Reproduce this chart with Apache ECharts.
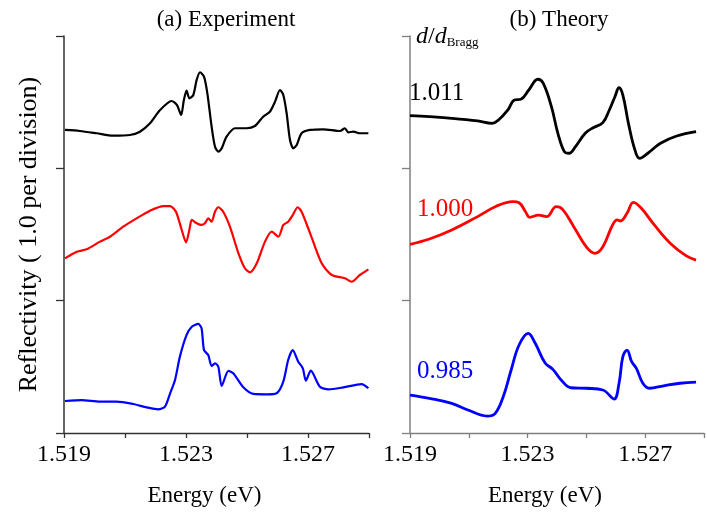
<!DOCTYPE html>
<html>
<head>
<meta charset="utf-8">
<script src="https://cdn.jsdelivr.net/npm/echarts@6/dist/echarts.min.js"></script>
<style>
  html, body { margin: 0; padding: 0; background: #fff; }
  #chart { width: 707px; height: 515px; }
</style>
</head>
<body>
<div id="chart"></div>
<script>
// Energy axis ticks (eV); only every second tick carries a label
const energyMin = 1.519;
const energyMax = 1.529;
const energyStep = 0.002;
const labelledTicks = [1.519, 1.523, 1.527];

// Panel titles and per-curve labels
const panelTitles = ['(a) Experiment', '(b) Theory'];
const spacingLabels = ['1.011', '1.000', '0.985'];
const curveColors = ['#000000', '#ff0000', '#0000ff'];

// (a) Measured reflectivity, [energy eV, reflectivity incl. offset]
const expTop = [
  [1.51903, 2.290], [1.51952, 2.282], [1.52007, 2.265], [1.52061, 2.247], [1.52116, 2.252],
  [1.52149, 2.277], [1.52182, 2.340], [1.52215, 2.441], [1.52253, 2.509], [1.52270, 2.479],
  [1.52284, 2.403], [1.52293, 2.516], [1.52302, 2.587], [1.52311, 2.529], [1.52324, 2.554],
  [1.52335, 2.668], [1.52346, 2.726], [1.52359, 2.693], [1.52370, 2.567], [1.52384, 2.315],
  [1.52395, 2.164], [1.52406, 2.126], [1.52417, 2.151], [1.52433, 2.239], [1.52461, 2.303],
  [1.52499, 2.303], [1.52526, 2.320], [1.52553, 2.390], [1.52575, 2.428], [1.52592, 2.504],
  [1.52608, 2.592], [1.52619, 2.554], [1.52630, 2.416], [1.52641, 2.214], [1.52652, 2.151],
  [1.52663, 2.176], [1.52679, 2.265], [1.52707, 2.290], [1.52750, 2.295], [1.52805, 2.282],
  [1.52821, 2.303], [1.52832, 2.272], [1.52849, 2.277], [1.52870, 2.265], [1.52898, 2.265]
];
const expMid = [
  [1.51903, 1.320], [1.51942, 1.370], [1.51974, 1.388], [1.52018, 1.446], [1.52051, 1.483],
  [1.52094, 1.559], [1.52138, 1.622], [1.52182, 1.680], [1.52226, 1.715], [1.52248, 1.715],
  [1.52267, 1.672], [1.52286, 1.534], [1.52300, 1.441], [1.52311, 1.534], [1.52319, 1.610],
  [1.52335, 1.585], [1.52351, 1.572], [1.52362, 1.585], [1.52373, 1.622], [1.52384, 1.597],
  [1.52395, 1.672], [1.52406, 1.706], [1.52422, 1.672], [1.52444, 1.559], [1.52472, 1.358],
  [1.52493, 1.245], [1.52510, 1.214], [1.52532, 1.282], [1.52559, 1.446], [1.52581, 1.521],
  [1.52603, 1.483], [1.52619, 1.572], [1.52635, 1.597], [1.52650, 1.647], [1.52666, 1.706],
  [1.52679, 1.672], [1.52707, 1.509], [1.52745, 1.282], [1.52778, 1.194], [1.52821, 1.169],
  [1.52843, 1.143], [1.52870, 1.194], [1.52898, 1.237]
];
const expLow = [
  [1.51903, 0.242], [1.51958, 0.249], [1.52018, 0.237], [1.52073, 0.237], [1.52127, 0.219],
  [1.52171, 0.194], [1.52209, 0.179], [1.52231, 0.199], [1.52248, 0.300], [1.52264, 0.401],
  [1.52280, 0.577], [1.52302, 0.741], [1.52319, 0.803], [1.52340, 0.824], [1.52351, 0.791],
  [1.52359, 0.627], [1.52373, 0.589], [1.52384, 0.506], [1.52395, 0.527], [1.52406, 0.501],
  [1.52417, 0.355], [1.52439, 0.469], [1.52455, 0.451], [1.52488, 0.345], [1.52521, 0.295],
  [1.52565, 0.292], [1.52597, 0.300], [1.52619, 0.388], [1.52635, 0.552], [1.52650, 0.627],
  [1.52668, 0.539], [1.52683, 0.489], [1.52693, 0.395], [1.52709, 0.471], [1.52739, 0.350],
  [1.52767, 0.330], [1.52816, 0.345], [1.52876, 0.370], [1.52898, 0.338]
];

// (b) Calculated reflectivity for three layer spacings d/d_Bragg
const theoryTop = [
  [1.51900, 2.398], [1.51966, 2.390], [1.52042, 2.378], [1.52130, 2.358], [1.52179, 2.340],
  [1.52201, 2.365], [1.52233, 2.441], [1.52255, 2.516], [1.52277, 2.522], [1.52304, 2.592],
  [1.52335, 2.673], [1.52353, 2.643], [1.52381, 2.466], [1.52403, 2.265], [1.52425, 2.126],
  [1.52441, 2.114], [1.52463, 2.164], [1.52496, 2.265], [1.52523, 2.307], [1.52556, 2.345],
  [1.52578, 2.441], [1.52597, 2.541], [1.52611, 2.609], [1.52624, 2.554], [1.52643, 2.340],
  [1.52665, 2.139], [1.52681, 2.076], [1.52709, 2.114], [1.52752, 2.189], [1.52807, 2.244],
  [1.52873, 2.277]
];
const theoryMid = [
  [1.51900, 1.426], [1.51966, 1.466], [1.52042, 1.534], [1.52130, 1.635], [1.52195, 1.715],
  [1.52250, 1.748], [1.52271, 1.740], [1.52293, 1.672], [1.52307, 1.630], [1.52337, 1.647],
  [1.52365, 1.635], [1.52397, 1.710], [1.52419, 1.690], [1.52457, 1.559], [1.52501, 1.403],
  [1.52529, 1.358], [1.52556, 1.408], [1.52589, 1.572], [1.52605, 1.610], [1.52616, 1.602],
  [1.52638, 1.660], [1.52660, 1.743], [1.52687, 1.698], [1.52731, 1.572], [1.52785, 1.434],
  [1.52840, 1.338], [1.52873, 1.307]
];
const theoryLow = [
  [1.51900, 0.287], [1.51966, 0.262], [1.52042, 0.224], [1.52097, 0.174], [1.52162, 0.128],
  [1.52190, 0.149], [1.52217, 0.274], [1.52244, 0.476], [1.52271, 0.665], [1.52302, 0.753],
  [1.52326, 0.678], [1.52359, 0.531], [1.52386, 0.481], [1.52414, 0.401], [1.52447, 0.342],
  [1.52501, 0.338], [1.52556, 0.325], [1.52594, 0.257], [1.52611, 0.376], [1.52624, 0.577],
  [1.52638, 0.627], [1.52654, 0.539], [1.52670, 0.489], [1.52692, 0.376], [1.52714, 0.338],
  [1.52763, 0.357], [1.52818, 0.376], [1.52873, 0.385]
];

const FONT = '"Liberation Serif", "Times New Roman", serif';

function isLabelled(v) {
  return labelledTicks.some(t => Math.abs(v - t) < 1e-7);
}

function energyAxis(gridIndex, axisColor) {
  return {
    type: 'value', gridIndex,
    min: energyMin, max: energyMax, interval: energyStep,
    name: 'Energy (eV)', nameLocation: 'middle', nameGap: 51,
    nameTextStyle: { fontFamily: FONT, fontSize: 23, color: '#000', padding: [0, 24, 0, 0] },
    axisLine: { show: true, lineStyle: { color: axisColor, width: 1.3 } },
    axisTick: { show: true, inside: false, length: 5, lineStyle: { color: axisColor, width: 1.3 } },
    axisLabel: {
      margin: 10, fontFamily: FONT, fontSize: 24, color: '#000',
      showMinLabel: true, showMaxLabel: true,
      formatter: v => isLabelled(v) ? v.toFixed(3) : ''
    },
    splitLine: { show: false }
  };
}

function reflAxis(gridIndex, axisColor, withName) {
  return {
    type: 'value', gridIndex,
    min: 0, max: 3, interval: 1,
    name: withName ? 'Reflectivity ( 1.0 per division)' : '',
    nameLocation: 'middle', nameGap: 22,
    nameTextStyle: { fontFamily: FONT, fontSize: 26, color: '#000' },
    axisLine: { show: true, onZero: false, lineStyle: { color: axisColor, width: 1.5 } },
    axisTick: { show: true, inside: false, length: 8, lineStyle: { color: axisColor, width: 1.3 } },
    axisLabel: { show: false },
    splitLine: { show: false }
  };
}

function curve(data, color, axisIdx, smooth, width) {
  return {
    type: 'line', data, xAxisIndex: axisIdx, yAxisIndex: axisIdx,
    showSymbol: false, smooth, animation: false, clip: false,
    lineStyle: { color, width }
  };
}

const chart = echarts.init(document.getElementById('chart'), null, { renderer: 'canvas' });

chart.setOption({
  backgroundColor: '#ffffff',
  animation: false,
  title: [
    { text: panelTitles[0], left: 221, top: 3, textAlign: 'center',
      textStyle: { fontFamily: FONT, fontSize: 23, fontWeight: 'normal', color: '#000' } },
    { text: panelTitles[1], left: 554, top: 3, textAlign: 'center',
      textStyle: { fontFamily: FONT, fontSize: 23, fontWeight: 'normal', color: '#000' } }
  ],
  grid: [
    { left: 64, top: 36, width: 305, height: 397 },
    { left: 410, top: 36, width: 305, height: 397 }
  ],
  xAxis: [energyAxis(0, '#333333'), energyAxis(1, '#7f7f7f')],
  yAxis: [reflAxis(0, '#333333', true), reflAxis(1, '#7f7f7f', false)],
  series: [
    curve(expTop, curveColors[0], 0, 0.25, 2.2),
    curve(expMid, curveColors[1], 0, 0.25, 2.2),
    curve(expLow, curveColors[2], 0, 0.25, 2.2),
    curve(theoryTop, curveColors[0], 1, 0.4, 2.8),
    curve(theoryMid, curveColors[1], 1, 0.4, 2.8),
    curve(theoryLow, curveColors[2], 1, 0.4, 2.8)
  ],
  graphic: [
    {
      type: 'text', left: 416, top: 25,
      style: {
        text: '{d|d}{s|/}{d|d}{sub|Bragg}',
        rich: {
          d: { fontFamily: FONT, fontSize: 24, fontStyle: 'italic', fill: '#000', verticalAlign: 'bottom' },
          s: { fontFamily: FONT, fontSize: 24, fill: '#000', verticalAlign: 'bottom' },
          sub: { fontFamily: FONT, fontSize: 13, fill: '#000', padding: [16, 0, 0, 0] }
        }
      }
    },
    { type: 'text', left: 409, top: 81,
      style: { text: spacingLabels[0], fontFamily: FONT, fontSize: 25, fill: curveColors[0] } },
    { type: 'text', left: 417, top: 197,
      style: { text: spacingLabels[1], fontFamily: FONT, fontSize: 25, fill: curveColors[1] } },
    { type: 'text', left: 417, top: 359,
      style: { text: spacingLabels[2], fontFamily: FONT, fontSize: 25, fill: curveColors[2] } }
  ]
});
</script>
</body>
</html>
